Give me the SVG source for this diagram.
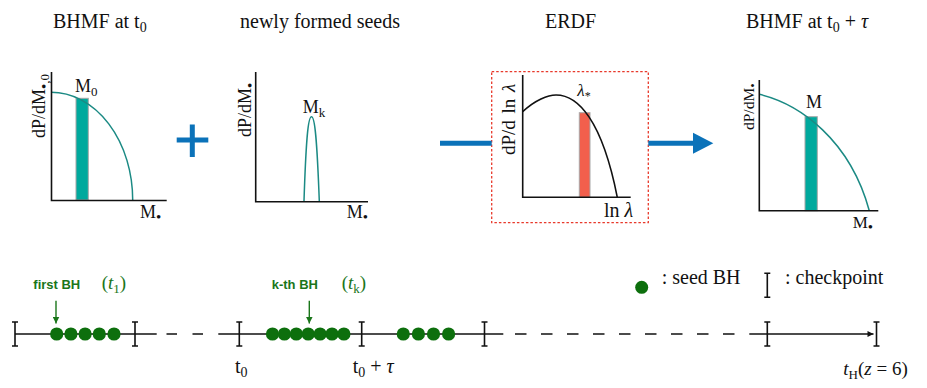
<svg xmlns="http://www.w3.org/2000/svg" width="927" height="388" viewBox="0 0 927 388">
<defs>
<style>
.t{font-family:"Liberation Serif","Times New Roman",serif;fill:#111}
.title{font-size:20px}
.lab{font-size:18px}
.it{font-style:italic}
.bu{font-size:15px}
.ax{stroke:#111;stroke-width:1.6;fill:none}
.cv{stroke:#1b8a84;stroke-width:1.5;fill:none}
.bar{fill:#00a99d;stroke:#a8a8a8;stroke-width:1}
.tl{stroke:#111;stroke-width:1.4;fill:none}
.ck{stroke:#111;stroke-width:1.6;fill:none}
.dot{fill:#0d6f0d}
.gt{fill:#1a761a}
.bl{stroke:#0b72b9;stroke-width:5;fill:none}
.sb{font-family:"Liberation Sans",Arial,sans-serif;font-weight:bold;font-size:13px;fill:#1a761a}
.ga{stroke:#1a761a;stroke-width:1.4;fill:none}
</style>
<marker id="garrow" viewBox="0 0 8 8" refX="8" refY="4" markerWidth="7" markerHeight="7" markerUnits="userSpaceOnUse" orient="auto">
<path d="M0,0 L8,4 L0,8 z" fill="#1a761a"/>
</marker>
<marker id="karrow" viewBox="0 0 8 8" refX="8" refY="4" markerWidth="7" markerHeight="6" markerUnits="userSpaceOnUse" orient="auto">
<path d="M0,0 L8,4 L0,8 z" fill="#111"/>
</marker>
<path id="ibeam" d="M0,-12 V12 M-3,-12 H3 M-3,12 H3"/>
</defs>
<rect width="927" height="388" fill="#fff"/>

<!-- Panel 1: BHMF at t0 -->
<g id="panel-bhmf-t0">
<text class="t title" x="53" y="28">BHMF at t<tspan font-size="14" dy="4">0</tspan></text>
<rect class="bar" x="76" y="98.3" width="12.3" height="101.7"/>
<path class="cv" d="M51,92.3 A81.7,107.7 0 0 1 132.7,200"/>
<path class="ax" d="M51.5,72 V200.5 H166.7"/>
<text class="t lab" x="75" y="92">M<tspan font-size="13" dy="4">0</tspan></text>
<text class="t lab" x="140" y="218">M<tspan class="bu" dy="4">•</tspan></text>
<text class="t lab" transform="translate(45,138) rotate(-90)">dP/dM<tspan class="bu" dy="4">•</tspan><tspan font-size="13">,0</tspan></text>
</g>

<!-- Plus sign -->
<g id="plus">
<path class="bl" d="M176.7,140 H208.3 M192.3,124.5 V157"/>
</g>

<!-- Panel 2: newly formed seeds -->
<g id="panel-seeds">
<text class="t title" x="240" y="28">newly formed seeds</text>
<path class="cv" d="M304,201 C306,140 308,116.7 311.5,116.7 C315,116.7 317,140 319.3,201"/>
<path class="ax" d="M255.7,72 V201.7 H368"/>
<text class="t lab" x="302.7" y="113">M<tspan font-size="13" dy="4">k</tspan></text>
<text class="t lab" x="346.7" y="218">M<tspan class="bu" dy="4">•</tspan></text>
<text class="t lab" transform="translate(251,137) rotate(-90)">dP/dM<tspan class="bu" dy="4">•</tspan></text>
</g>

<!-- Panel 3: ERDF -->
<g id="panel-erdf">
<text class="t title" x="545" y="28">ERDF</text>
<rect x="491.7" y="71.7" width="156.6" height="151" fill="none" stroke="#e8392b" stroke-width="1.3" stroke-dasharray="2.5 2"/>
<rect x="579.3" y="112.7" width="10.7" height="84.6" fill="#f25f4c" stroke="#a8a8a8" stroke-width="1"/>
<path d="M522.7,111.7 C535,100 548,95 556,95 C578,95 602,120 617.3,197.3" fill="none" stroke="#111" stroke-width="1.6"/>
<path class="ax" d="M522.7,75 V197.3 H630.7"/>
<text class="t" font-size="17" x="577.3" y="96"><tspan class="it">λ</tspan><tspan font-size="12" dy="4">*</tspan></text>
<text class="t" font-size="20" x="604" y="216.7">ln <tspan class="it">λ</tspan></text>
<text class="t" font-size="19" word-spacing="2" transform="translate(515,155) rotate(-90)">dP/d ln <tspan class="it">λ</tspan></text>
</g>

<!-- Panel 4: BHMF at t0 + tau -->
<g id="panel-bhmf-t0tau">
<text class="t title" x="746" y="28">BHMF at t<tspan font-size="14" dy="4">0</tspan><tspan dy="-4"> + </tspan><tspan class="it">τ</tspan></text>
<rect class="bar" x="805" y="116.7" width="12.3" height="94"/>
<path class="cv" d="M759.3,94.3 C800,104 850,140 869.3,210.7"/>
<path class="ax" d="M759.3,80 V210.7 H878.3"/>
<text class="t lab" x="806" y="108.3">M</text>
<text class="t" font-size="17" x="852.7" y="228">M<tspan class="bu" dy="4">•</tspan></text>
<text class="t" font-size="15.5" transform="translate(754,130) rotate(-90)">dP/dM<tspan font-size="13" dy="3">•</tspan></text>
</g>

<!-- Connectors: blue arrows -->
<g id="connectors">
<path class="bl" d="M440,143.3 H491.7"/>
<path class="bl" d="M648.3,143.3 H695"/>
<polygon points="693,132.7 713.3,143.3 693,153.8" fill="#0b72b9"/>
</g>

<!-- Timeline -->
<g id="timeline">
<path class="tl" d="M15,334 H156.7"/>
<path class="tl" d="M166.5,334 H203" stroke-dasharray="10.5 15.5"/>
<path class="tl" d="M218.3,334 H503.3"/>
<path class="tl" d="M515,334 H735" stroke-dasharray="11.5 14.5"/>
<path class="tl" d="M749.3,334 H873.5" marker-end="url(#karrow)"/>
<g class="ck">
<use href="#ibeam" x="15" y="334"/>
<use href="#ibeam" x="135" y="334"/>
<use href="#ibeam" x="239.3" y="334"/>
<use href="#ibeam" x="361.7" y="334"/>
<use href="#ibeam" x="484.5" y="334"/>
<use href="#ibeam" x="767.3" y="334"/>
<use href="#ibeam" x="876.5" y="334"/>
</g>
<g class="dot">
<circle cx="56.7" cy="334" r="6.6"/>
<circle cx="70.9" cy="334" r="6.6"/>
<circle cx="85.1" cy="334" r="6.6"/>
<circle cx="99.3" cy="334" r="6.6"/>
<circle cx="114" cy="334" r="6.6"/>
<circle cx="272.5" cy="334" r="6.6"/>
<circle cx="284.4" cy="334" r="6.6"/>
<circle cx="296.3" cy="334" r="6.6"/>
<circle cx="308.2" cy="334" r="6.6"/>
<circle cx="320.1" cy="334" r="6.6"/>
<circle cx="332" cy="334" r="6.6"/>
<circle cx="343.9" cy="334" r="6.6"/>
<circle cx="403.3" cy="334" r="6.6"/>
<circle cx="418.4" cy="334" r="6.6"/>
<circle cx="433.5" cy="334" r="6.6"/>
<circle cx="448.6" cy="334" r="6.6"/>
</g>
<text class="sb" x="33.3" y="289.3">first BH</text>
<path class="ga" d="M56,300.7 V323.5" marker-end="url(#garrow)"/>
<text class="t gt" font-size="19" x="101.7" y="289">(<tspan class="it">t</tspan><tspan font-size="13" dy="4">1</tspan><tspan dy="-4">)</tspan></text>
<text class="sb" x="271.7" y="289.3">k-th BH</text>
<path class="ga" d="M309.3,300.7 V323.5" marker-end="url(#garrow)"/>
<text class="t gt" font-size="19" x="341.7" y="289">(<tspan class="it">t</tspan><tspan font-size="13" dy="4">k</tspan><tspan dy="-4">)</tspan></text>
<text class="t" font-size="20" x="235" y="372.7">t<tspan font-size="14" dy="4">0</tspan></text>
<text class="t" font-size="20" x="352.7" y="372.7">t<tspan font-size="14" dy="4">0</tspan><tspan dy="-4"> + </tspan><tspan class="it">τ</tspan></text>
<text class="t" font-size="19" x="843.3" y="375"><tspan class="it">t</tspan><tspan font-size="13" dy="4">H</tspan><tspan dy="-4">(</tspan><tspan class="it">z</tspan> = 6)</text>
</g>

<!-- Legend -->
<g id="legend">
<circle class="dot" cx="641.7" cy="287.3" r="6.5"/>
<text class="t" font-size="20" x="661.7" y="284">: seed BH</text>
<use href="#ibeam" class="ck" x="767.3" y="285.3"/>
<text class="t" font-size="20" x="785" y="284">: checkpoint</text>
</g>
</svg>
